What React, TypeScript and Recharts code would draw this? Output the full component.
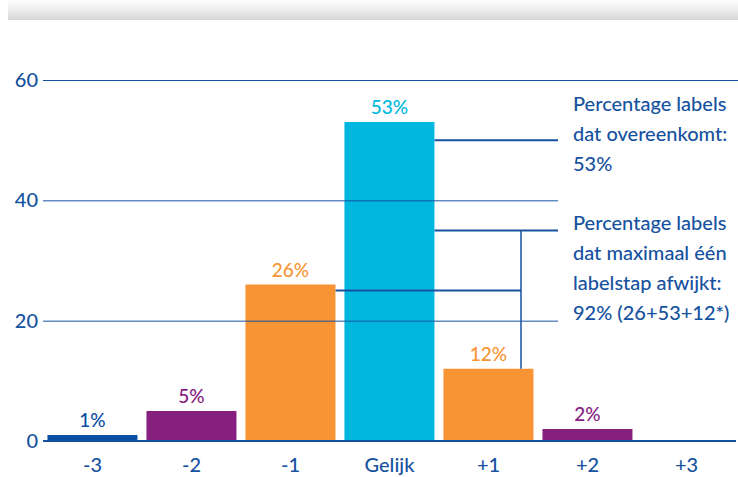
import React from 'react';
import { BarChart, Bar, XAxis, YAxis, Cell, LabelList } from 'recharts';

const categories = ['-3', '-2', '-1', 'Gelijk', '+1', '+2', '+3'];
const percentages = [1, 5, 26, 53, 12, 2, 0];
const barColors = ['#0b4fa2', '#86207f', '#f89433', '#00b8df', '#f89433', '#86207f', '#86207f'];
const yTicks = [0, 20, 40, 60];
const noteMatch = ['Percentage labels', 'dat overeenkomt:', '53%'];
const noteWithinOne = ['Percentage labels', 'dat maximaal één', 'labelstap afwijkt:', '92% (26+53+12*)'];
// connector levels in data units (match line, within-one line, -1 line)
const connectorLevels = [50, 35, 25];

const data = categories.map((c, i) => ({ category: c, value: percentages[i] }));

const BLUE = '#1652a0';
const FONT = 'Lato, "Noto Sans", sans-serif';
const FW = 500;
const W = 738;
const H = 477;
const M = { top: 80, right: 2, bottom: 0, left: 0 };
const Y_AXIS_W = 43;
const X_AXIS_H = 36;
const plotLeft = M.left + Y_AXIS_W;
const plotRight = W - M.right;
const plotTop = M.top;
const plotBottom = H - M.bottom - X_AXIS_H;
const bandW = (plotRight - plotLeft) / categories.length;
const GAP = 0.045;
const yMax = 60;
const yOf = (v: number) => plotTop + (1 - v / yMax) * (plotBottom - plotTop);
const barRight = (i: number) => plotLeft + i * bandW + bandW * (1 - GAP);
const GRID_END = 558;
const VERT_X = 521;

const BarLabel = (props: any) => {
  const { x, y, width, value, index } = props;
  if (!value) return null;
  return (
    <text x={x + width / 2} y={y - 8} textAnchor="middle" fill={barColors[index]} fontSize={19} fontWeight={FW} fontFamily={FONT}>
      {`${value}%`}
    </text>
  );
};

export default function App() {
  const gi = categories.indexOf('Gelijk');
  const mi = categories.indexOf('-1');
  const pi = categories.indexOf('+1');
  return (
    <div style={{ position: 'absolute', left: 0, top: 0, width: W, height: H, background: '#fff', overflow: 'hidden' }}>
      <div
        style={{
          position: 'absolute',
          left: 8,
          top: 0,
          width: W - 8,
          height: 20,
          background: 'linear-gradient(to bottom, #fdfdfd 0%, #ececec 55%, #d4d4d4 100%)',
        }}
      />
      <BarChart width={W} height={H} data={data} margin={M} barCategoryGap="4.5%">
        <XAxis
          dataKey="category"
          height={X_AXIS_H}
          axisLine={{ stroke: BLUE, strokeWidth: 2 }}
          tickLine={false}
          tickSize={0}
          tickMargin={17}
          interval={0}
          tick={{ fill: BLUE, fontSize: 20, fontWeight: FW, fontFamily: FONT }}
        />
        <YAxis
          width={Y_AXIS_W}
          domain={[0, yMax]}
          ticks={yTicks}
          axisLine={false}
          tickLine={false}
          tickSize={0}
          tickMargin={5}
          tick={{ fill: BLUE, fontSize: 20, fontWeight: FW, fontFamily: FONT }}
        />
        <Bar dataKey="value" isAnimationActive={false}>
          {data.map((d, i) => (
            <Cell key={d.category} fill={barColors[i]} />
          ))}
          <LabelList dataKey="value" content={BarLabel} />
        </Bar>
      </BarChart>
      <svg width={W} height={H} style={{ position: 'absolute', left: 0, top: 0, pointerEvents: 'none' }}>
        {yTicks
          .filter((t) => t > 0)
          .map((t) => (
            <line
              key={`grid${t}`}
              x1={plotLeft}
              x2={t === yMax ? W : GRID_END}
              y1={yOf(t) + 0.5}
              y2={yOf(t) + 0.5}
              stroke={BLUE}
              strokeWidth={1}
            />
          ))}
        <line x1={barRight(gi)} x2={GRID_END} y1={yOf(connectorLevels[0])} y2={yOf(connectorLevels[0])} stroke={BLUE} strokeWidth={2} />
        <line x1={barRight(gi)} x2={GRID_END} y1={yOf(connectorLevels[1])} y2={yOf(connectorLevels[1])} stroke={BLUE} strokeWidth={2} />
        <line x1={VERT_X} x2={VERT_X} y1={yOf(connectorLevels[1])} y2={yOf(percentages[pi])} stroke={BLUE} strokeWidth={1.5} />
        <line x1={barRight(mi)} x2={VERT_X} y1={yOf(connectorLevels[2])} y2={yOf(connectorLevels[2])} stroke={BLUE} strokeWidth={2} />
        {noteMatch.map((t, i) => (
          <text key={`a${i}`} x={573} y={111 + i * 30} fill={BLUE} fontSize={20} fontWeight={FW} fontFamily={FONT}>
            {t}
          </text>
        ))}
        {noteWithinOne.map((t, i) => (
          <text key={`b${i}`} x={573} y={229.5 + i * 30} fill={BLUE} fontSize={20} fontWeight={FW} fontFamily={FONT}>
            {t}
          </text>
        ))}
      </svg>
    </div>
  );
}
